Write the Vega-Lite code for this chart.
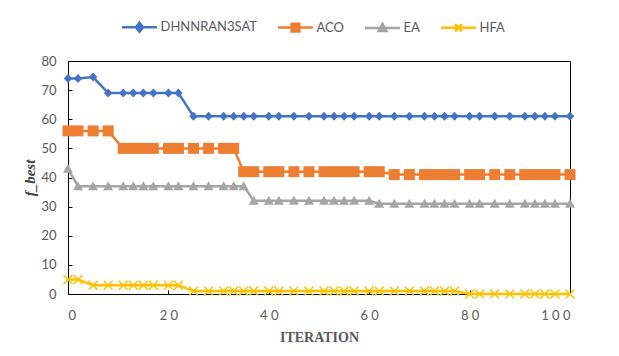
{
  "$schema": "https://vega.github.io/schema/vega-lite/v6.json",
  "width": 502,
  "height": 233,
  "autosize": {"type": "none"},
  "padding": {"left": 68, "top": 61, "right": 49, "bottom": 62},
  "background": "white",
  "config": {
    "view": {"stroke": "#000000", "strokeWidth": 1},
    "font": "Lato",
    "legend": {
      "title": null,
      "orient": "none",
      "direction": "horizontal",
      "legendX": 52.5,
      "legendY": -53,
      "padding": 0,
      "columns": 4,
      "columnPadding": 15,
      "symbolSize": 1225,
      "symbolStrokeWidth": 2.5,
      "symbolOpacity": 1,
      "labelOffset": 2,
      "labelFont": "Lato",
      "labelFontSize": 13,
      "labelColor": "#595959"
    }
  },
  "data": {
    "values": [
      {"x": 0, "DHNNRAN3SAT": 74, "ACO": 56, "EA": 43, "HFA": 5},
      {"x": 2, "DHNNRAN3SAT": 74, "ACO": 56, "EA": 37, "HFA": 5},
      {"x": 5, "DHNNRAN3SAT": 74.5, "ACO": 56, "EA": 37, "HFA": 3},
      {"x": 8, "DHNNRAN3SAT": 69, "ACO": 56, "EA": 37, "HFA": 3},
      {"x": 11, "DHNNRAN3SAT": 69, "ACO": 50, "EA": 37, "HFA": 3},
      {"x": 13, "DHNNRAN3SAT": 69, "ACO": 50, "EA": 37, "HFA": 3},
      {"x": 15, "DHNNRAN3SAT": 69, "ACO": 50, "EA": 37, "HFA": 3},
      {"x": 17, "DHNNRAN3SAT": 69, "ACO": 50, "EA": 37, "HFA": 3},
      {"x": 20, "DHNNRAN3SAT": 69, "ACO": 50, "EA": 37, "HFA": 3},
      {"x": 22, "DHNNRAN3SAT": 69, "ACO": 50, "EA": 37, "HFA": 3},
      {"x": 25, "DHNNRAN3SAT": 61, "ACO": 50, "EA": 37, "HFA": 1},
      {"x": 28, "DHNNRAN3SAT": 61, "ACO": 50, "EA": 37, "HFA": 1},
      {"x": 31, "DHNNRAN3SAT": 61, "ACO": 50, "EA": 37, "HFA": 1},
      {"x": 33, "DHNNRAN3SAT": 61, "ACO": 50, "EA": 37, "HFA": 1},
      {"x": 35, "DHNNRAN3SAT": 61, "ACO": 42, "EA": 37, "HFA": 1},
      {"x": 37, "DHNNRAN3SAT": 61, "ACO": 42, "EA": 32, "HFA": 1},
      {"x": 40, "DHNNRAN3SAT": 61, "ACO": 42, "EA": 32, "HFA": 1},
      {"x": 42, "DHNNRAN3SAT": 61, "ACO": 42, "EA": 32, "HFA": 1},
      {"x": 45, "DHNNRAN3SAT": 61, "ACO": 42, "EA": 32, "HFA": 1},
      {"x": 48, "DHNNRAN3SAT": 61, "ACO": 42, "EA": 32, "HFA": 1},
      {"x": 51, "DHNNRAN3SAT": 61, "ACO": 42, "EA": 32, "HFA": 1},
      {"x": 53, "DHNNRAN3SAT": 61, "ACO": 42, "EA": 32, "HFA": 1},
      {"x": 55, "DHNNRAN3SAT": 61, "ACO": 42, "EA": 32, "HFA": 1},
      {"x": 57, "DHNNRAN3SAT": 61, "ACO": 42, "EA": 32, "HFA": 1},
      {"x": 60, "DHNNRAN3SAT": 61, "ACO": 42, "EA": 32, "HFA": 1},
      {"x": 62, "DHNNRAN3SAT": 61, "ACO": 42, "EA": 31, "HFA": 1},
      {"x": 65, "DHNNRAN3SAT": 61, "ACO": 41, "EA": 31, "HFA": 1},
      {"x": 68, "DHNNRAN3SAT": 61, "ACO": 41, "EA": 31, "HFA": 1},
      {"x": 71, "DHNNRAN3SAT": 61, "ACO": 41, "EA": 31, "HFA": 1},
      {"x": 73, "DHNNRAN3SAT": 61, "ACO": 41, "EA": 31, "HFA": 1},
      {"x": 75, "DHNNRAN3SAT": 61, "ACO": 41, "EA": 31, "HFA": 1},
      {"x": 77, "DHNNRAN3SAT": 61, "ACO": 41, "EA": 31, "HFA": 1},
      {"x": 80, "DHNNRAN3SAT": 61, "ACO": 41, "EA": 31, "HFA": 0},
      {"x": 82, "DHNNRAN3SAT": 61, "ACO": 41, "EA": 31, "HFA": 0},
      {"x": 85, "DHNNRAN3SAT": 61, "ACO": 41, "EA": 31, "HFA": 0},
      {"x": 88, "DHNNRAN3SAT": 61, "ACO": 41, "EA": 31, "HFA": 0},
      {"x": 91, "DHNNRAN3SAT": 61, "ACO": 41, "EA": 31, "HFA": 0},
      {"x": 93, "DHNNRAN3SAT": 61, "ACO": 41, "EA": 31, "HFA": 0},
      {"x": 95, "DHNNRAN3SAT": 61, "ACO": 41, "EA": 31, "HFA": 0},
      {"x": 97, "DHNNRAN3SAT": 61, "ACO": 41, "EA": 31, "HFA": 0},
      {"x": 100, "DHNNRAN3SAT": 61, "ACO": 41, "EA": 31, "HFA": 0}
    ]
  },
  "transform": [{"fold": ["DHNNRAN3SAT", "ACO", "EA", "HFA"], "as": ["series", "val"]}],
  "encoding": {
    "x": {
      "field": "x",
      "type": "quantitative",
      "scale": {"domain": [0, 100], "nice": false},
      "axis": {
        "title": "ITERATION",
        "titleFont": "Liberation Serif",
        "titleFontSize": 14,
        "titleFontWeight": "bold",
        "titleColor": "#595959",
        "titlePadding": 8,
        "values": [0, 20, 40, 60, 80, 100],
        "labelExpr": "join(split(datum.label, ''), ' ')",
        "labelFont": "Lato",
        "labelFontSize": 13,
        "labelColor": "#595959",
        "labelPadding": 19,
        "grid": false,
        "domainColor": "#000000",
        "ticks": true,
        "tickColor": "#000000",
        "tickSize": -4
      }
    },
    "y": {
      "field": "val",
      "type": "quantitative",
      "scale": {"domain": [0, 80], "nice": false},
      "axis": {
        "title": "f_best",
        "titleFont": "Liberation Serif",
        "titleFontSize": 15,
        "titleFontWeight": "bold",
        "titleFontStyle": "italic",
        "titleColor": "#404040",
        "titlePadding": 3,
        "values": [0, 10, 20, 30, 40, 50, 60, 70, 80],
        "labelFont": "Lato",
        "labelFontSize": 13,
        "labelColor": "#595959",
        "labelPadding": 16,
        "grid": false,
        "domainColor": "#000000",
        "ticks": true,
        "tickColor": "#000000",
        "tickSize": -4
      }
    }
  },
  "layer": [
    {
      "mark": {"type": "line", "strokeWidth": 2.5},
      "encoding": {
        "stroke": {
          "field": "series",
          "type": "nominal",
          "scale": {
            "domain": ["DHNNRAN3SAT", "ACO", "EA", "HFA"],
            "range": ["#4472C4", "#ED7D31", "#A5A5A5", "#FFC000"]
          }
        }
      }
    },
    {
      "transform": [{"filter": {"field": "series", "equal": "DHNNRAN3SAT"}}],
      "mark": {"type": "point", "filled": true, "opacity": 1, "size": 100, "fill": "#4472C4", "shape": "M0,-0.9L0.85,0L0,0.9L-0.85,0Z"}
    },
    {
      "transform": [{"filter": {"field": "series", "equal": "ACO"}}],
      "mark": {"type": "point", "filled": true, "opacity": 1, "size": 100, "fill": "#ED7D31", "shape": "M-1.1,-1.1L1.1,-1.1L1.1,1.1L-1.1,1.1Z"}
    },
    {
      "transform": [{"filter": {"field": "series", "equal": "EA"}}],
      "mark": {"type": "point", "filled": true, "opacity": 1, "size": 100, "fill": "#A5A5A5", "shape": "M0,-1L1,0.8L-1,0.8Z"}
    },
    {
      "transform": [{"filter": {"field": "series", "equal": "HFA"}}],
      "mark": {"type": "point", "filled": true, "opacity": 1, "size": 100, "fill": "#FFC000", "shape": "M-0.794,-1.006L1.006,0.794L0.794,1.006L-1.006,-0.794ZM-0.794,1.006L-1.006,0.794L0.794,-1.006L1.006,-0.794Z"}
    },
    {
      "mark": {"type": "point", "filled": true, "opacity": 0, "size": 1},
      "encoding": {
        "fill": {
          "field": "series",
          "type": "nominal",
          "scale": {
            "domain": ["DHNNRAN3SAT", "ACO", "EA", "HFA"],
            "range": ["#4472C4", "#ED7D31", "#A5A5A5", "#FFC000"]
          }
        },
        "stroke": {"field": "series", "type": "nominal"},
        "shape": {
          "field": "series",
          "type": "nominal",
          "scale": {
            "domain": ["DHNNRAN3SAT", "ACO", "EA", "HFA"],
            "range": [
              "M-1,0L1,0M0,-0.26L0.2,0L0,0.26L-0.2,0Z",
              "M-1,0L1,0M-0.22,-0.22L0.22,-0.22L0.22,0.22L-0.22,0.22Z",
              "M-1,0L1,0M0,-0.24L0.22,0.16L-0.22,0.16Z",
              "M-1,0L1,0M-0.2,-0.2L0.2,0.2M-0.2,0.2L0.2,-0.2"
            ]
          }
        }
      }
    }
  ]
}
